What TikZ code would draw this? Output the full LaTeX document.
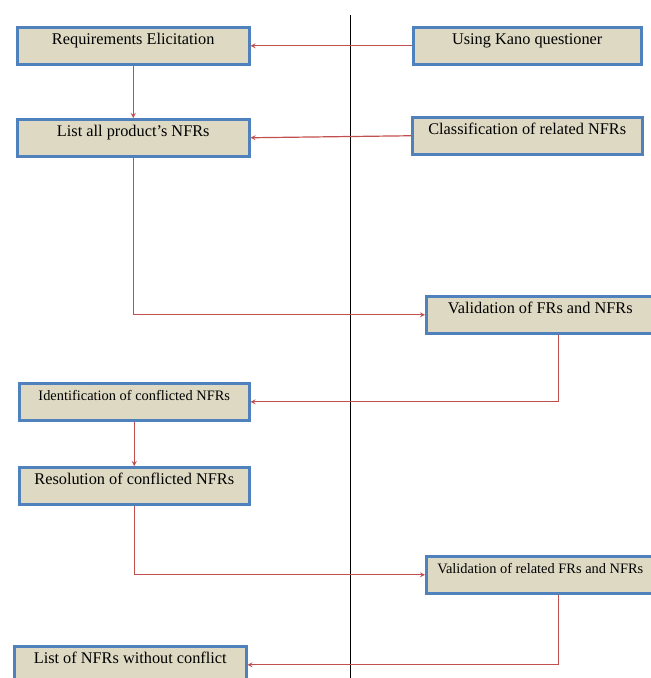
\documentclass[tikz,border=0pt]{standalone}
\usepackage{fontspec}
\setmainfont{Liberation Serif}
\usetikzlibrary{calc}
\definecolor{boxfill}{HTML}{DDD9C3}
\definecolor{boxline}{HTML}{4F81BD}
\definecolor{flowred}{HTML}{C0504D}

\begin{document}
\begin{tikzpicture}[x=1pt,y=-1pt,
    stagebox/.style={draw=boxline,line width=2.5pt,fill=boxfill,anchor=north west,inner sep=0pt,
        minimum width=#1,text height=17pt,text depth=20pt,font=\fontsize{16.3}{18}\selectfont},
    stagebox/.default=232pt,
    smalltext/.style={font=\fontsize{14.4}{16}\selectfont},
    flow/.style={draw=flowred,line width=1.2pt,->,>=stealth}]
            \useasboundingbox (0,0) rectangle (651,678);
            \clip (0,0) rectangle (651,678);

            \draw[line width=1pt,black] (350,15) coordinate (top) -- (350,678) coordinate (bottom);

            \node[stagebox] (elicit) at (16,26) {Requirements Elicitation};
            \node[stagebox=228pt] (kano) at (412,26) {Using Kano questioner};
            \node[stagebox] (listnfr) at (16,118) {List all product's NFRs};
            \node[stagebox=230pt] (classify) at (411,116) {Classification of related NFRs};
            \node[stagebox=228pt] (valid) at (425,295) {Validation of FRs and NFRs};
            \node[stagebox=230pt,smalltext] (ident) at (18,382) {Identification of conflicted NFRs};
            \node[stagebox=230pt] (resol) at (18,466) {Resolution of conflicted NFRs};
            \node[stagebox=228pt,smalltext] (validrel) at (425,555) {Validation of related FRs and NFRs};
            \node[stagebox] (final) at (13,645) {List of NFRs without conflict};

            \draw[flow] (kano.west) -- (elicit.east);
            \draw[flow] (classify.west) -- (listnfr.east);
            \draw[flow] (elicit.south) -- (listnfr.north);
            \draw[flow] (listnfr.south) |- (valid.west);
            \draw[flow] ($(valid.south)+(18,0)$) |- (ident.east);
            \draw[flow] (ident.south) -- (resol.north);
            \draw[flow] (resol.south) |- (validrel.west);
            \draw[flow] ($(validrel.south)+(18,0)$) |- (final.east);
\end{tikzpicture}
\end{document}
